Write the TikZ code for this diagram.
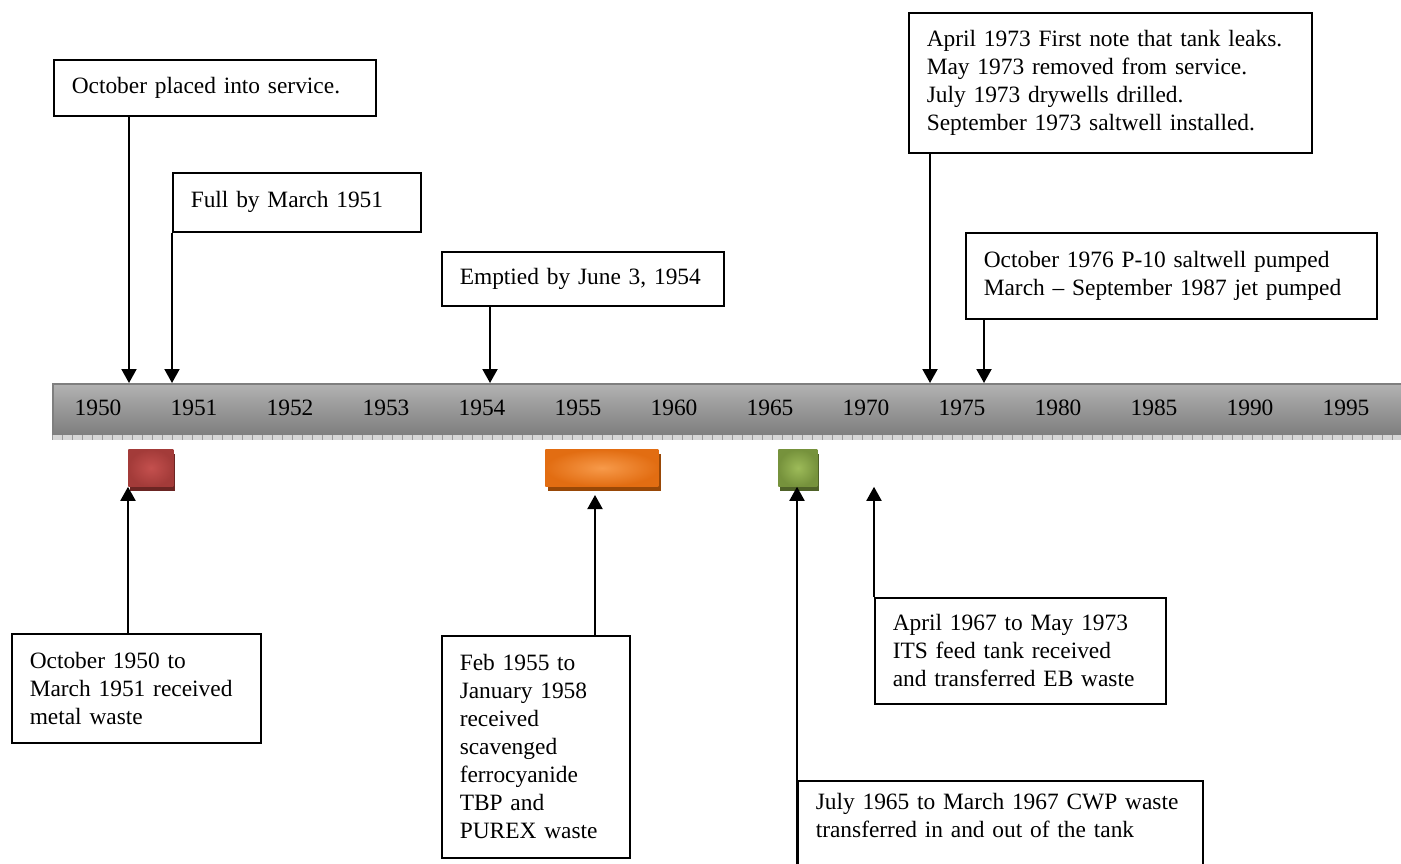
\documentclass[tikz,border=0pt]{standalone}
\usepackage{fontspec}
\setmainfont{Liberation Serif}
\usetikzlibrary{arrows.meta,shadows}

\definecolor{barTop}{HTML}{B2B2B2}
\definecolor{barMid}{HTML}{D2D2D2}
\definecolor{barBot}{HTML}{7E7E7E}
\definecolor{barLine}{HTML}{7F7F7F}
\definecolor{stripCol}{HTML}{D6D6D6}
\definecolor{redIn}{HTML}{C4504E}
\definecolor{redOut}{HTML}{A33B39}
\definecolor{redSh}{HTML}{6B2523}
\definecolor{orgIn}{HTML}{F79A4A}
\definecolor{orgOut}{HTML}{E26D12}
\definecolor{orgSh}{HTML}{984807}
\definecolor{grnIn}{HTML}{9DBB59}
\definecolor{grnOut}{HTML}{76923C}
\definecolor{grnSh}{HTML}{4F6228}

\tikzset{
  note/.style={draw, line width=0.75pt, anchor=north west, align=left,
    inner xsep=9pt, inner ysep=2pt, font=\fontsize{11.7}{14}\selectfont},
  arr/.style={line width=1pt, -{Triangle[width=7.5pt,length=7pt]}},
  year/.style={font=\fontsize{11.7}{14}\selectfont},
  tank/.style={anchor=north west, inner sep=0pt, minimum height=18.5pt},
}

\begin{document}
\begin{tikzpicture}[x=0.5pt,y=-0.5pt]
			%%%%% START %%%%%
			\useasboundingbox (0,0) rectangle (1401,863);
			
			% time bar
			\node[anchor=north west, inner sep=0pt, minimum width=674.5pt, minimum height=25.5pt,
			  draw=barLine, line width=0.75pt, top color=barTop, middle color=barMid, bottom color=barBot] (bar) at (52,383) {};
			\fill[stripCol] (52,435) rectangle (1401,440);
			\foreach \x in {52,62,...,1401}
			  \draw[gray!80, line width=0.3pt] (\x,435) -- (\x,440);
			
			\foreach \yr [count=\i from 0] in {1950,1951,1952,1953,1954,1955,1960,1965,1970,1975,1980,1985,1990,1995}
			  \node[year] (y\yr) at ({98+96*\i},408) {\yr};
			
			% waste periods
			\node[tank, minimum width=22.5pt, inner color=redIn, outer color=redOut,
			  drop shadow={shadow xshift=1pt, shadow yshift=-2.5pt, fill=redSh, opacity=1}] (redbox) at (128,449) {};
			\node[tank, minimum width=56.5pt, inner color=orgIn, outer color=orgOut,
			  drop shadow={shadow xshift=1.2pt, shadow yshift=-2.5pt, fill=orgSh, opacity=1}] (orgbox) at (545,449) {};
			\node[tank, minimum width=19.5pt, inner color=grnIn, outer color=grnOut,
			  drop shadow={shadow xshift=1pt, shadow yshift=-2.5pt, fill=grnSh, opacity=1}] (grnbox) at (778,449) {};
			
			% upper notes
			\node[note, text width=143pt, minimum height=28pt] (svc) at (53,59) {October placed into service.};
			\node[note, text width=106pt, minimum height=29.5pt] (full) at (172,172) {Full by March 1951};
			\node[note, text width=123pt, minimum height=27pt] (empty) at (441,251) {Emptied by June 3, 1954};
			\node[note, text width=183.5pt, minimum height=70pt] (leak) at (908,12) {April 1973 First note that tank leaks.\\May 1973 removed from service.\\July 1973 drywells drilled.\\September 1973 saltwell installed.};
			\node[note, text width=187.5pt, minimum height=43pt] (pump) at (965,232) {October 1976 P-10 saltwell pumped\\March – September 1987 jet pumped};
			
			% lower notes
			\node[note, text width=106.5pt, minimum height=54.5pt] (metal) at (11,633) {October 1950 to\\March 1951 received\\metal waste};
			\node[note, text width=76pt, minimum height=111pt] (purex) at (441,635) {Feb 1955 to\\January 1958\\received\\scavenged\\ferrocyanide\\TBP and\\PUREX waste};
			\node[note, text width=127.5pt, minimum height=53pt] (its) at (874,597) {April 1967 to May 1973\\ITS feed tank received\\and transferred EB waste};
			\node[note, text width=184.5pt, minimum height=53pt] (cwp) at (797,780) {July 1965 to March 1967 CWP waste\\transferred in and out of the tank\\ \strut};
			
			% arrow ends
			\coordinate (a50) at (129,383);
			\coordinate (a54) at (490,383);
			\coordinate (a73) at (930,383);
			\coordinate (a76) at (984,383);
			\coordinate (b55) at (595,495);
			
			\draw[arr] (svc.south -| a50) -- (a50);
			\draw[arr] (full.south west) -- (full.south west |- bar.north);
			\draw[arr] (empty.south -| a54) -- (a54);
			\draw[arr] (leak.south -| a73) -- (a73);
			\draw[arr] (pump.south -| a76) -- (a76);
			
			\draw[arr] (metal.north -| redbox.south west) -- (redbox.south west);
			\draw[arr] (purex.north -| b55) -- (b55);
			\draw[arr] (cwp.south west) -- (cwp.south west |- grnbox.south);
			\draw[arr] (its.north west) -- (its.north west |- grnbox.south);
			
			%%%%% END %%%%%
\end{tikzpicture}
\end{document}
